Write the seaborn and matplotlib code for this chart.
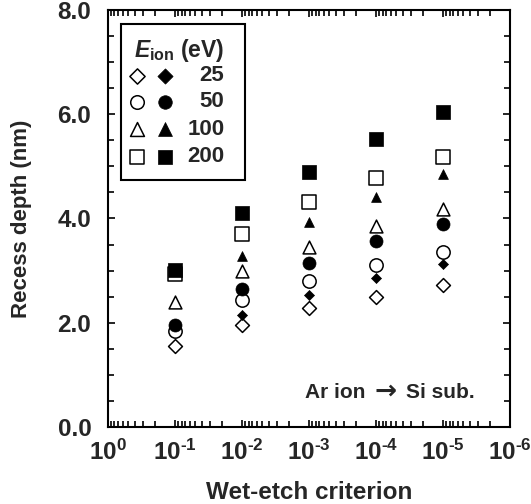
import numpy as np
import pandas as pd
import matplotlib
matplotlib.use("Agg")
import matplotlib.pyplot as plt
from matplotlib.patches import Rectangle
from matplotlib.ticker import LogLocator, FixedLocator, FixedFormatter, MultipleLocator, NullFormatter
import seaborn as sns

# Wet-etch criterion (decades) and recess depth (nm) per ion energy
criterion = [1e-1, 1e-2, 1e-3, 1e-4, 1e-5]
energies = [25, 50, 100, 200]

# open symbols
open_25 = [1.55, 1.95, 2.28, 2.50, 2.72]
open_50 = [1.85, 2.43, 2.80, 3.11, 3.35]
open_100 = [2.40, 2.99, 3.45, 3.85, 4.18]
open_200 = [2.93, 3.71, 4.31, 4.78, 5.17]

# filled symbols
filled_25 = [np.nan, 2.15, 2.54, 2.86, 3.13]
filled_50 = [1.95, 2.65, 3.15, 3.56, 3.90]
filled_100 = [np.nan, 3.28, 3.93, 4.42, 4.85]
filled_200 = [3.01, 4.11, 4.89, 5.53, 6.05]

x_ticks = [1e0, 1e-1, 1e-2, 1e-3, 1e-4, 1e-5, 1e-6]
x_tick_labels = [r"$\mathbf{10^{0}}$", r"$\mathbf{10^{\text{-}1}}$", r"$\mathbf{10^{\text{-}2}}$",
                 r"$\mathbf{10^{\text{-}3}}$", r"$\mathbf{10^{\text{-}4}}$", r"$\mathbf{10^{\text{-}5}}$",
                 r"$\mathbf{10^{\text{-}6}}$"]
y_ticks = [0.0, 2.0, 4.0, 6.0, 8.0]
y_tick_labels = ["0.0", "2.0", "4.0", "6.0", "8.0"]

sns.set_theme(style="ticks")
plt.rcParams["font.family"] = ["Liberation Sans", "DejaVu Sans"]
plt.rcParams["font.weight"] = "bold"
plt.rcParams["mathtext.fontset"] = "custom"
plt.rcParams["mathtext.rm"] = "Liberation Sans:bold"
plt.rcParams["mathtext.bf"] = "Liberation Sans:bold"
plt.rcParams["mathtext.it"] = "Liberation Sans:italic:bold"

fig = plt.figure(figsize=(5.31, 5.04), dpi=100)
ax = fig.add_axes([0.2034, 0.1528, 0.7571, 0.8274])

markers = ["D", "o", "^", "s"]
open_series = [open_25, open_50, open_100, open_200]
filled_series = [filled_25, filled_50, filled_100, filled_200]
open_sizes = [50, 92, 85, 102]
filled_sizes = [26, 88, 50, 100]

for vals, m, s in zip(open_series, markers, open_sizes):
    df = pd.DataFrame({"x": criterion, "y": vals})
    sns.scatterplot(data=df, x="x", y="y", marker=m, s=s, color="white",
                    edgecolor="black", linewidth=1.1, ax=ax, zorder=3)
for vals, m, s in zip(filled_series, markers, filled_sizes):
    df = pd.DataFrame({"x": criterion, "y": vals})
    sns.scatterplot(data=df, x="x", y="y", marker=m, s=s, color="black",
                    edgecolor="black", linewidth=0.5, ax=ax, zorder=4)

ax.set_xscale("log")
ax.set_xlim(1e0, 1e-6)
ax.set_ylim(0, 8)

ax.xaxis.set_major_locator(FixedLocator(x_ticks))
ax.xaxis.set_major_formatter(FixedFormatter(x_tick_labels))
ax.xaxis.set_minor_locator(LogLocator(base=10, subs=np.arange(2, 10), numticks=20))
ax.xaxis.set_minor_formatter(NullFormatter())
ax.yaxis.set_major_locator(FixedLocator(y_ticks))
ax.yaxis.set_major_formatter(FixedFormatter(y_tick_labels))
ax.yaxis.set_minor_locator(MultipleLocator(0.5))

for side in ax.spines.values():
    side.set_linewidth(1.5)
    side.set_color("black")
ax.tick_params(which="both", direction="in", top=True, right=True, color="black", width=1.2)
ax.tick_params(which="major", length=5)
ax.tick_params(which="minor", length=4)
ax.tick_params(axis="x", which="major", labelsize=17.5, pad=9)
ax.tick_params(axis="y", which="major", labelsize=17.5, pad=12)
for lab in ax.get_yticklabels():
    lab.set_fontweight("bold")

ax.set_xlabel("Wet-etch criterion", fontsize=17.5, fontweight="bold", va="center")
ax.xaxis.set_label_coords(0.5, -0.157)
ax.set_ylabel("Recess depth (nm)", fontsize=16, fontweight="bold", va="center",
              ha="center", rotation_mode="default")
ax.yaxis.set_label_coords(-0.214, 0.5)

# legend box
ax.add_patch(Rectangle((0.0323, 0.5923), 0.3085, 0.3741, transform=ax.transAxes,
                       fill=False, edgecolor="black", linewidth=1.5, zorder=5))
ax.text(0.2886, 0.9017, r"$E_{\mathrm{ion}}$ (eV)", transform=ax.transAxes,
        ha="right", va="center", fontsize=16.5, fontweight="bold", zorder=6)
row_y = [0.8417, 0.7794, 0.7134, 0.6484]
leg_open = [60, 95, 100, 100]
leg_filled = [60, 95, 100, 100]
for e, m, yy, so, sf in zip(energies, markers, row_y, leg_open, leg_filled):
    ax.scatter([0.0721], [yy], marker=m, s=so, facecolor="white", edgecolor="black",
               linewidth=1.1, transform=ax.transAxes, zorder=6, clip_on=False)
    ax.scatter([0.1418], [yy], marker=m, s=sf, facecolor="black", edgecolor="black",
               linewidth=0.5, transform=ax.transAxes, zorder=6, clip_on=False)
    ax.text(0.2896, yy, str(e), transform=ax.transAxes, ha="right", va="center",
            fontsize=16, fontweight="bold", zorder=6)

# sample note: "Ar ion -> Si sub."
ax.text(0.490, 0.0839, "Ar ion", transform=ax.transAxes, ha="left",
        va="center", fontsize=15, fontweight="bold")
ax.text(0.6915, 0.0839, "\u2192", transform=ax.transAxes, ha="center",
        va="center", fontsize=19, fontweight="bold", family="DejaVu Sans")
ax.text(0.913, 0.0839, "Si sub.", transform=ax.transAxes, ha="right",
        va="center", fontsize=15, fontweight="bold")

fig.savefig("out.png", dpi=100)
